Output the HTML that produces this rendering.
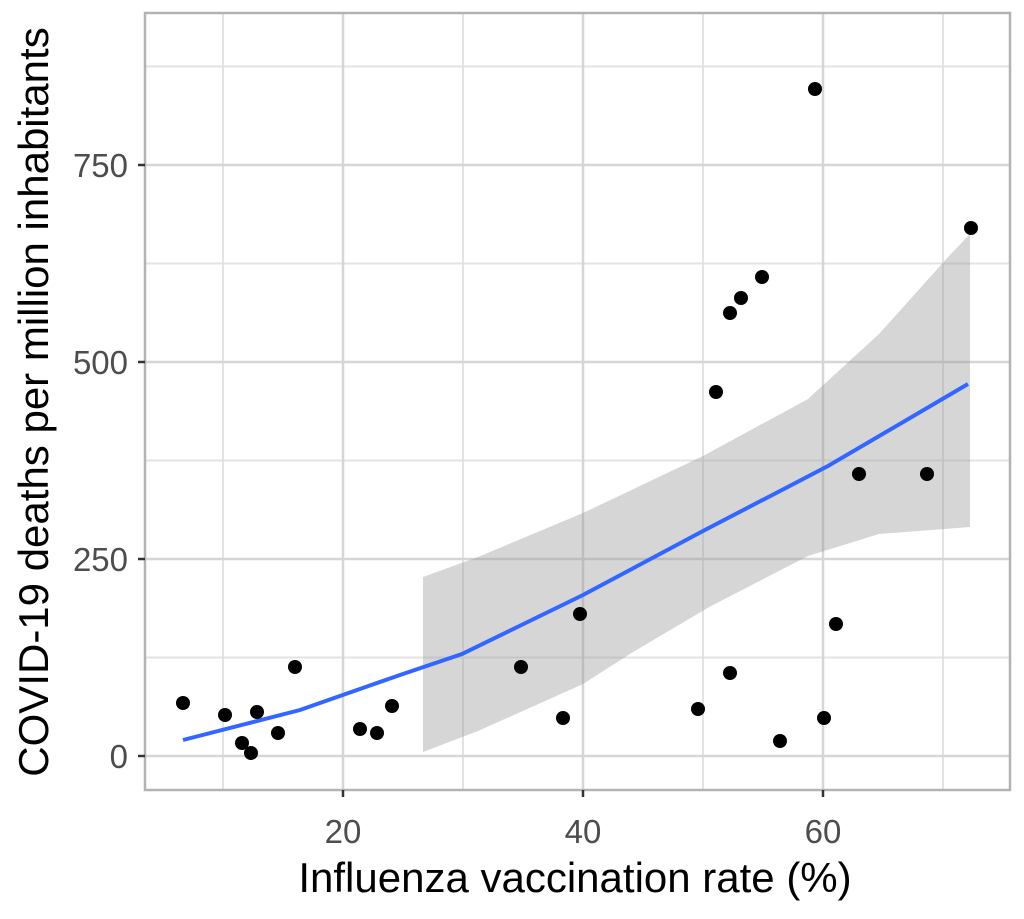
<!DOCTYPE html>
<html><head><style>body{margin:0;background:#fff}</style></head><body>
<svg width="1024" height="914" xmlns="http://www.w3.org/2000/svg" font-family="Liberation Sans, sans-serif">
<rect width="1024" height="914" fill="#fff"/>
<g stroke="#e3e3e3" stroke-width="2">
<line x1="145" x2="1010" y1="66.5" y2="66.5"/><line x1="145" x2="1010" y1="263.5" y2="263.5"/><line x1="145" x2="1010" y1="460.5" y2="460.5"/><line x1="145" x2="1010" y1="657.5" y2="657.5"/>
<line x1="223" x2="223" y1="13" y2="790"/><line x1="463" x2="463" y1="13" y2="790"/><line x1="703" x2="703" y1="13" y2="790"/><line x1="943" x2="943" y1="13" y2="790"/>
</g>
<g stroke="#d6d6d6" stroke-width="2.5">
<line x1="145" x2="1010" y1="165" y2="165"/><line x1="145" x2="1010" y1="362" y2="362"/><line x1="145" x2="1010" y1="559" y2="559"/><line x1="145" x2="1010" y1="756" y2="756"/>
<line x1="343" x2="343" y1="13" y2="790"/><line x1="583" x2="583" y1="13" y2="790"/><line x1="823" x2="823" y1="13" y2="790"/>
</g>
<polygon fill="#999" fill-opacity="0.4" points="423,577 478,557 583,513 703,456 808,399 879,334 949,256 970,234 970,527 879,534 808,556 711,606 633,652 583,684 478,731 423,752"/>
<polyline fill="none" stroke="#3366ff" stroke-width="4" points="183,740 300,710 400,675 462,654 583,595 703,531 828,466 968,384"/>
<g fill="#000">
<circle cx="183" cy="703" r="7"/><circle cx="225" cy="715" r="7"/><circle cx="242" cy="743" r="7"/><circle cx="251" cy="753" r="7"/><circle cx="257" cy="712" r="7"/><circle cx="278" cy="733" r="7"/><circle cx="295" cy="667" r="7"/><circle cx="360" cy="729" r="7"/><circle cx="377" cy="733" r="7"/><circle cx="392" cy="706" r="7"/><circle cx="521" cy="667" r="7"/><circle cx="563" cy="718" r="7"/><circle cx="580" cy="614" r="7"/><circle cx="698" cy="709" r="7"/><circle cx="716" cy="392" r="7"/><circle cx="730" cy="313" r="7"/><circle cx="730" cy="673" r="7"/><circle cx="741" cy="298" r="7"/><circle cx="762" cy="277" r="7"/><circle cx="780" cy="741" r="7"/><circle cx="815" cy="89" r="7"/><circle cx="824" cy="718" r="7"/><circle cx="836" cy="624" r="7"/><circle cx="859" cy="474" r="7"/><circle cx="927" cy="474" r="7"/><circle cx="971" cy="228" r="7"/>
</g>
<rect x="145" y="13" width="865" height="777" fill="none" stroke="#b3b3b3" stroke-width="2.5"/>
<g stroke="#333" stroke-width="2.5">
<line x1="138" x2="145" y1="165" y2="165"/><line x1="138" x2="145" y1="362" y2="362"/><line x1="138" x2="145" y1="559" y2="559"/><line x1="138" x2="145" y1="756" y2="756"/>
<line x1="343" x2="343" y1="790" y2="797"/><line x1="583" x2="583" y1="790" y2="797"/><line x1="823" x2="823" y1="790" y2="797"/>
</g>
<g fill="#4d4d4d" font-size="33" text-anchor="end">
<text x="128" y="177">750</text><text x="128" y="374">500</text><text x="128" y="571">250</text><text x="128" y="768">0</text>
</g>
<g fill="#4d4d4d" font-size="33" text-anchor="middle">
<text x="343" y="843">20</text><text x="583" y="843">40</text><text x="823" y="843">60</text>
</g>
<text x="575" y="892" font-size="42" text-anchor="middle" fill="#000">Influenza vaccination rate (%)</text>
<text transform="translate(48,402) rotate(-90)" font-size="42" text-anchor="middle" fill="#000">COVID-19 deaths per million inhabitants</text>
</svg>
</body></html>
